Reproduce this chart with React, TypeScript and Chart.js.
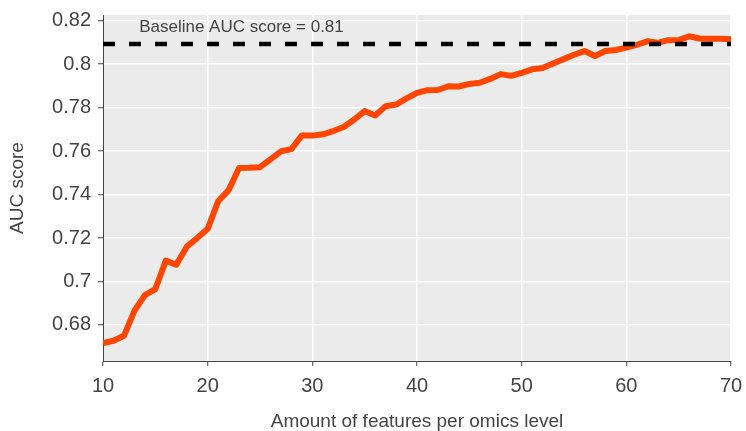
import React, { useEffect, useRef } from "react";
import { Chart, registerables } from "chart.js";

Chart.register(...registerables);

// Number of features kept per omics level
const features: number[] = [
  10, 11, 12, 13, 14, 15, 16, 17, 18, 19,
  20, 21, 22, 23, 24, 25, 26, 27, 28, 29,
  30, 31, 32, 33, 34, 35, 36, 37, 38, 39,
  40, 41, 42, 43, 44, 45, 46, 47, 48, 49,
  50, 51, 52, 53, 54, 55, 56, 57, 58, 59,
  60, 61, 62, 63, 64, 65, 66, 67, 68, 69,
  70,
];

// Mean AUC reached with that many features
const aucScores: number[] = [
  0.6716, 0.6727, 0.675, 0.6865, 0.6937, 0.6965, 0.7096, 0.7077, 0.716, 0.72,
  0.7242, 0.7369, 0.742, 0.7522, 0.7523, 0.7526, 0.7562, 0.7599, 0.7609, 0.7672,
  0.7671, 0.7677, 0.7692, 0.7711, 0.7745, 0.7784, 0.7764, 0.7806, 0.7814, 0.7842,
  0.7868, 0.788, 0.7881, 0.7898, 0.7897, 0.7909, 0.7914, 0.7932, 0.7954, 0.7946,
  0.796, 0.7976, 0.7982, 0.8003, 0.8023, 0.8043, 0.806, 0.8037, 0.806, 0.8065,
  0.8076, 0.8089, 0.8105, 0.8098, 0.811, 0.8111, 0.8128, 0.8118, 0.8117, 0.8117,
  0.8114,
];

// Reference model using all features
const baselineAuc = 0.8093;
const baselineText = "Baseline AUC score = 0.81";
const baselineTextAt = { x: 23.23, y: 0.8171 };

const xTicks: number[] = [10, 20, 30, 40, 50, 60, 70];
const yTicks: number[] = [0.68, 0.7, 0.72, 0.74, 0.76, 0.78, 0.8, 0.82];
const xRange = { min: 10, max: 70 };
const yRange = { min: 0.6634, max: 0.8226 };

const xTitle = "Amount of features per omics level";
const yTitle = "AUC score";

const FONT = "'Liberation Sans', Arial, Helvetica, sans-serif";
const TEXT = "#444";

const panelBackground = {
  id: "panelBackground",
  beforeDraw(chart: any) {
    const { ctx, chartArea } = chart;
    ctx.save();
    ctx.fillStyle = "#ebebeb";
    ctx.fillRect(chartArea.left, chartArea.top, chartArea.right - chartArea.left, chartArea.bottom - chartArea.top);
    ctx.restore();
  },
};

const textLayer = {
  id: "textLayer",
  afterDraw(chart: any) {
    const { ctx, chartArea } = chart;
    const xs = chart.scales.x;
    const ys = chart.scales.y;
    ctx.save();
    ctx.fillStyle = TEXT;
    ctx.textAlign = "center";
    ctx.textBaseline = "middle";
    ctx.font = `17px ${FONT}`;
    ctx.fillText(baselineText, xs.getPixelForValue(baselineTextAt.x), ys.getPixelForValue(baselineTextAt.y));

    // y-axis title, centred on the plotting panel
    ctx.translate(18, (chartArea.top + chartArea.bottom) / 2);
    ctx.rotate(-Math.PI / 2);
    ctx.font = `19px ${FONT}`;
    ctx.fillText(yTitle, 0, 0);
    ctx.restore();
  },
};

export default function App() {
  const canvasRef = useRef<HTMLCanvasElement | null>(null);

  useEffect(() => {
    const canvas = canvasRef.current;
    if (!canvas) return;

    const chart = new Chart(canvas, {
      type: "line",
      data: {
        datasets: [
          {
            label: "Baseline",
            data: [
              { x: xRange.min, y: baselineAuc },
              { x: xRange.max, y: baselineAuc },
            ],
            borderColor: "#000",
            borderWidth: 4.5,
            borderDash: [12, 14],
            pointRadius: 0,
            fill: false,
          },
          {
            label: "AUC",
            data: features.map((f, i) => ({ x: f, y: aucScores[i] })),
            borderColor: "#ff4500",
            borderWidth: 6,
            borderJoinStyle: "round",
            pointRadius: 0,
            tension: 0,
            fill: false,
          },
        ],
      },
      options: {
        responsive: false,
        devicePixelRatio: 1,
        animation: false,
        layout: { padding: { left: 0, right: 15, top: 15, bottom: 0 } },
        plugins: {
          legend: { display: false },
          tooltip: { enabled: false },
        },
        scales: {
          x: {
            type: "linear",
            min: xRange.min,
            max: xRange.max,
            afterBuildTicks: (scale: any) => {
              scale.ticks = xTicks.map((v) => ({ value: v }));
            },
            afterFit: (scale: any) => {
              scale.height = 70;
              scale.paddingLeft = 0;
              scale.paddingRight = 0;
            },
            grid: { color: "#ffffff", lineWidth: 1.5, tickColor: TEXT, tickLength: 5, tickWidth: 1 },
            border: { color: TEXT, width: 1 },
            ticks: {
              color: TEXT,
              padding: 8,
              maxRotation: 0,
              font: { family: FONT, size: 20 },
              callback: (v: any) => String(v),
            },
            title: {
              display: true,
              text: xTitle,
              color: TEXT,
              font: { family: FONT, size: 19, lineHeight: 1 },
              padding: { top: 0, bottom: 0 },
            },
          },
          y: {
            type: "linear",
            min: yRange.min,
            max: yRange.max,
            afterBuildTicks: (scale: any) => {
              scale.ticks = yTicks.map((v) => ({ value: v }));
            },
            afterFit: (scale: any) => {
              scale.width = 103;
              scale.paddingTop = 0;
              scale.paddingBottom = 0;
            },
            grid: { color: "#ffffff", lineWidth: 1.5, tickColor: TEXT, tickLength: 5, tickWidth: 1 },
            border: { color: TEXT, width: 1 },
            ticks: {
              color: TEXT,
              padding: 7,
              font: { family: FONT, size: 20 },
              callback: (v: any) => String(Number(Number(v).toFixed(2))),
            },
          },
        },
      },
      plugins: [panelBackground, textLayer],
    });

    return () => chart.destroy();
  }, []);

  return (
    <div style={{ position: "fixed", left: 0, top: 0, width: 746, height: 431, background: "#fff" }}>
      <canvas ref={canvasRef} width={746} height={431} style={{ display: "block" }} />
    </div>
  );
}
